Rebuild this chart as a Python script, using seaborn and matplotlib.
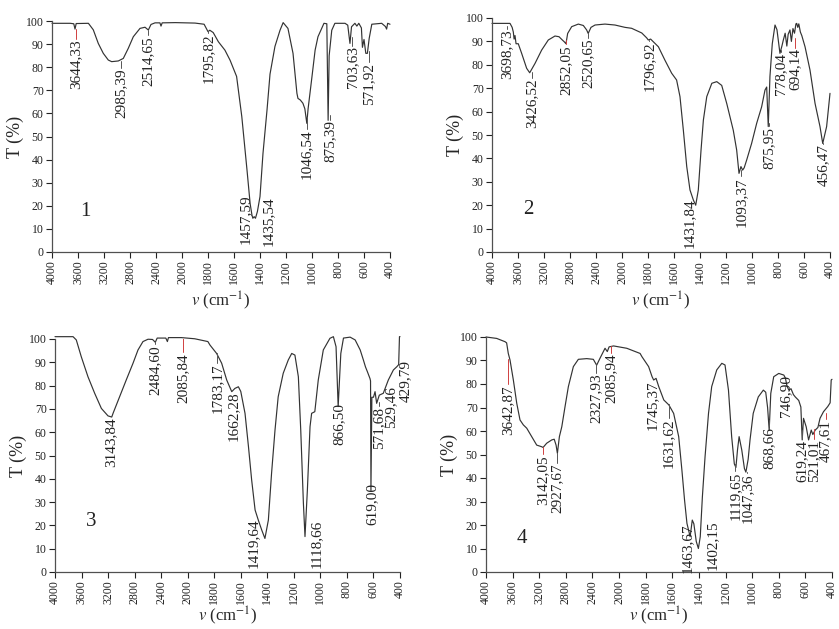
import numpy as np
import pandas as pd
import matplotlib
matplotlib.use("Agg")
import matplotlib.pyplot as plt
import seaborn as sns

# ---------------- data ----------------
wn1 = [4000, 3720, 3665, 3646, 3628, 3440, 3365, 3288, 3211, 3134,
       3082, 2980, 2903, 2826, 2749, 2646, 2569, 2518, 2477, 2415,
       2340, 2323, 2305, 2100, 1900, 1830, 1800, 1786, 1760, 1720,
       1670, 1630, 1580, 1540, 1500, 1476, 1462, 1455, 1445, 1435,
       1420, 1400, 1377, 1346, 1323, 1285, 1246, 1222, 1185, 1146,
       1116, 1108, 1090, 1070, 1055, 1040, 1030, 1000, 976, 954,
       908, 886, 876, 868, 848, 824, 746, 725, 708, 696,
       670, 655, 640, 620, 612, 600, 586, 574, 560, 540,
       464, 435, 426, 418, 400]
t1 = [99.0, 99.0, 98.8, 96.5, 98.9, 99.0, 96.2, 90.3, 86.0, 83.1,
      82.4, 82.7, 83.8, 88.2, 93.2, 96.8, 97.3, 96.1, 98.5, 99.2,
      99.2, 97.8, 99.2, 99.3, 99.1, 98.6, 95.4, 96.0, 95.0, 91.0,
      87.4, 83.0, 76.0, 58.6, 35.5, 21.0, 16.0, 14.6, 15.3, 14.6,
      17.5, 24.0, 42.7, 61.5, 77.0, 89.0, 96.0, 99.3, 96.8, 86.0,
      68.7, 66.5, 65.8, 64.4, 62.0, 55.7, 62.0, 76.0, 87.4, 93.2,
      99.0, 98.8, 57.0, 85.0, 96.0, 99.0, 99.0, 98.2, 90.3, 97.5,
      99.0, 97.8, 99.0, 97.0, 88.6, 92.0, 86.0, 86.0, 92.5, 98.6,
      99.0, 97.6, 96.5, 99.0, 98.6]

wn2 = [4000, 3723, 3690, 3672, 3660, 3646, 3630, 3596, 3544, 3467,
       3420, 3338, 3236, 3134, 3031, 2969, 2918, 2887, 2862, 2836,
       2774, 2672, 2595, 2544, 2520, 2477, 2415, 2262, 2108, 1977,
       1926, 1848, 1810, 1798, 1780, 1720, 1670, 1618, 1580, 1554,
       1528, 1502, 1477, 1451, 1433, 1413, 1392, 1374, 1348, 1309,
       1271, 1233, 1194, 1169, 1144, 1118, 1100, 1085, 1072, 1060,
       1041, 1003, 964, 926, 900, 887, 875, 862, 844, 823,
       808, 785, 770, 759, 745, 732, 722, 708, 697, 685,
       673, 662, 656, 648, 640, 628, 617, 592, 554, 515,
       477, 456, 426, 400]
t2 = [97.7, 97.7, 96.0, 94.0, 91.0, 92.5, 89.0, 89.0, 84.9, 78.5,
      76.6, 80.6, 86.3, 90.6, 92.3, 92.0, 90.6, 89.8, 89.0, 93.4,
      96.3, 97.4, 96.8, 94.9, 93.4, 96.0, 97.0, 97.4, 97.0, 96.0,
      95.6, 93.6, 91.5, 90.6, 91.0, 87.7, 82.0, 76.4, 73.5, 66.4,
      52.0, 36.5, 26.5, 22.2, 20.0, 26.5, 43.6, 56.4, 66.4, 72.1,
      72.8, 71.2, 63.4, 57.7, 52.0, 43.6, 33.6, 36.5, 35.0, 36.0,
      39.3, 46.4, 55.0, 62.0, 69.2, 70.5, 53.6, 75.0, 89.0, 97.0,
      95.0, 84.9, 88.0, 90.6, 93.5, 88.0, 93.0, 94.9, 90.0, 95.5,
      93.5, 97.5, 97.7, 96.0, 97.5, 94.0, 92.5, 87.7, 77.8, 63.5,
      53.6, 46.4, 53.6, 67.8]

wn3 = [4000, 3728, 3679, 3604, 3503, 3402, 3301, 3201, 3145, 3125,
       3025, 2925, 2824, 2749, 2674, 2598, 2530, 2488, 2460, 2330,
       2306, 2290, 2095, 1947, 1848, 1832, 1782, 1744, 1706, 1668,
       1644, 1618, 1600, 1568, 1542, 1518, 1492, 1468, 1442, 1418,
       1392, 1368, 1342, 1318, 1280, 1242, 1216, 1192, 1166, 1148,
       1128, 1116, 1098, 1078, 1066, 1042, 1016, 978, 928, 902,
       882, 866, 846, 826, 776, 738, 700, 676, 660, 646,
       626, 622, 619, 612, 600, 588, 576, 556, 526, 488,
       450, 424, 410, 404, 400]
t3 = [101.0, 101.0, 99.6, 92.4, 83.8, 76.7, 70.2, 67.0, 66.5, 68.1,
      75.3, 82.5, 89.6, 95.3, 98.9, 99.9, 99.8, 98.6, 100.4, 100.4,
      98.9, 100.6, 100.6, 100.1, 98.9, 97.4, 93.8, 89.6, 82.4, 77.4,
      78.8, 79.5, 77.5, 68.1, 53.8, 39.5, 26.6, 22.3, 18.0, 14.4,
      22.3, 42.3, 60.9, 75.2, 85.3, 91.0, 93.8, 93.1, 83.8, 60.9,
      29.5, 15.2, 35.2, 62.4, 68.1, 68.8, 82.4, 95.3, 100.3, 101.0,
      96.7, 71.0, 93.8, 100.4, 100.8, 99.6, 95.3, 91.0, 88.0, 86.0,
      83.0, 82.0, 35.0, 75.0, 75.0, 77.4, 72.4, 75.9, 76.7, 82.4,
      86.7, 88.1, 89.0, 101.0, 101.0]

wn4 = [4000, 3840, 3714, 3690, 3665, 3639, 3589, 3538, 3489, 3439,
       3388, 3313, 3238, 3163, 3142, 3088, 3012, 2975, 2947, 2927,
       2897, 2861, 2812, 2762, 2687, 2612, 2486, 2387, 2337, 2286,
       2211, 2177, 2150, 2083, 1942, 1842, 1828, 1778, 1752, 1740,
       1722, 1702, 1664, 1626, 1590, 1552, 1528, 1508, 1490, 1466,
       1450, 1438, 1420, 1404, 1390, 1374, 1354, 1328, 1304, 1266,
       1228, 1204, 1178, 1154, 1134, 1122, 1110, 1098, 1078, 1058,
       1047, 1030, 1016, 992, 954, 916, 898, 884, 872, 860,
       838, 800, 762, 750, 738, 724, 708, 690, 676, 650,
       634, 624, 614, 594, 576, 556, 544, 526, 506, 490,
       464, 432, 414, 406, 400]
t4 = [100.0, 99.4, 98.0, 97.5, 93.0, 90.2, 81.7, 71.8, 64.7, 62.6,
      61.2, 57.6, 54.0, 53.3, 53.0, 54.8, 56.2, 56.5, 54.0, 50.5,
      57.6, 61.8, 70.4, 78.9, 87.4, 90.5, 90.8, 90.5, 88.0, 91.0,
      95.2, 93.8, 95.8, 96.2, 95.2, 93.0, 91.6, 87.4, 83.1, 81.7,
      82.4, 78.9, 73.2, 71.1, 67.5, 57.6, 43.4, 30.6, 20.7, 15.0,
      22.1, 20.5, 13.0, 10.0, 15.0, 32.0, 49.0, 67.5, 78.9, 86.0,
      88.8, 88.1, 77.4, 57.6, 46.0, 44.5, 52.0, 57.6, 51.9, 44.0,
      42.5, 48.0, 56.2, 67.5, 74.5, 77.4, 76.5, 70.0, 60.4, 76.0,
      83.1, 84.5, 83.8, 82.5, 79.0, 77.4, 78.0, 75.5, 74.5, 73.0,
      70.2, 56.2, 65.4, 61.8, 56.2, 60.4, 58.5, 60.4, 61.5, 65.4,
      68.2, 70.4, 72.0, 81.7, 82.0]

labels1 = ["3644,33", "2985,39", "2514,65", "1795,82", "1457,59", "1435,54",
           "1046,54", "875,39", "703,63", "571,92"]
labels2 = ["3698,73", "3426,52", "2852,05", "2520,65", "1796,92", "1431,84",
           "1093,37", "875,95", "778,04", "694,14", "456,47"]
labels3 = ["3143,84", "2484,60", "2085,84", "1783,17", "1662,28", "1419,64",
           "1118,66", "866,50", "619,00", "571,68", "529,46", "429,79"]
labels4 = ["3642,87", "3142,05", "2927,67", "2327,93", "2085,94", "1745,37",
           "1631,62", "1463,67", "1402,15", "1119,65", "1047,36", "868,66",
           "746,90", "619,24", "521,01", "467,61"]
panel_names = ["1", "2", "3", "4"]

xtick_values = [4000, 3600, 3200, 2800, 2400, 2000, 1800, 1600, 1400,
                1200, 1000, 800, 600, 400]
ytick_values = [0, 10, 20, 30, 40, 50, 60, 70, 80, 90, 100]

# ---------------- layout (label placement) ----------------
lx1 = [3625, 2945, 2520, 1800, 1515, 1335, 1042, 860, 690, 562]
ly1 = [92, 79.5, 93.5, 94.5, 25, 24, 53, 57, 89, 82]
lx2 = [3774, 3389, 2862, 2519, 1790, 1485, 1085, 869, 780, 670, 452]
ly2 = [95, 74, 88.5, 91.3, 90, 23, 32, 53.6, 85, 87, 46]
lx3 = [3152, 2488, 2072, 1776, 1656, 1506, 1028, 858, 614, 558, 468, 362]
ly3 = [66.5, 97.4, 94, 89.6, 77.4, 23, 22.3, 72.4, 38, 71, 80, 91]
lx4 = [3664, 3148, 2928, 2345, 2125, 1752, 1626, 1488, 1300, 1126, 1038,
       870, 750, 624, 536, 448]
ly4 = [79.6, 49.8, 46.2, 84.5, 93, 81.7, 65.4, 20.7, 22.1, 42.7, 42,
       61.8, 83.8, 56.2, 56.2, 64.7]
red1 = {0}
red2 = {2, 9}
red3 = {2}
red4 = {0, 1, 4, 14, 15}
num_pos = [(3492, 17.5), (3441, 18), (3452, 21.6), (3463, 14.3)]
axes_rects = [
    [52 / 839, 1 - 252 / 629, 338 / 839, 231 / 629],
    [492 / 839, 1 - 252 / 629, 338 / 839, 234 / 629],
    [55 / 839, 1 - 572 / 629, 345 / 839, 233 / 629],
    [486 / 839, 1 - 572 / 629, 346 / 839, 235 / 629],
]
xlabel_pads = [4, 4, 0.5, 0.5]

# ---------------- style ----------------
sns.set_style("ticks")
plt.rcParams['font.family'] = ['Liberation Serif', 'DejaVu Serif']
plt.rcParams['mathtext.fontset'] = 'stix'
LINE = '#333333'
AX = '#505050'


# piecewise-linear wavenumber axis (4000-2000 step 400, 2000-400 step 200),
# written as an increasing function so the limits 4000 -> 400 run left to right
def fwd(v):
    v = np.asarray(v, dtype=float)
    return -np.where(v >= 2000, (4000 - v) / 400.0, 5 + (2000 - v) / 200.0)


def inv(q):
    p = -np.asarray(q, dtype=float)
    return np.where(p <= 5, 4000 - 400 * p, 2000 - 200 * (p - 5))


fig = plt.figure(figsize=(8.39, 6.29), dpi=100)

panels = [
    (wn1, t1, labels1, lx1, ly1, red1),
    (wn2, t2, labels2, lx2, ly2, red2),
    (wn3, t3, labels3, lx3, ly3, red3),
    (wn4, t4, labels4, lx4, ly4, red4),
]

for i, (wn, tt, labs, lx, ly, reds) in enumerate(panels):
    assert len(wn) == len(tt)
    ax = fig.add_axes(axes_rects[i])
    ax.set_xscale('function', functions=(fwd, inv))
    df = pd.DataFrame({'wn': wn, 'T': tt})
    sns.lineplot(data=df, x='wn', y='T', ax=ax, sort=False, estimator=None,
                 color=LINE, lw=0.85)
    for ln in ax.get_lines():
        ln.set_clip_on(False)
    ax.set_xticks(xtick_values)
    ax.set_xticklabels([str(v) for v in xtick_values], rotation=90)
    ax.set_yticks(ytick_values)
    ax.set_ylim(0, 100)
    ax.set_xlim(4000, 400)
    ax.tick_params(direction='out', length=4, width=0.8, labelsize=8.5,
                   colors='#222222', pad=2)
    for s in ['left', 'bottom']:
        ax.spines[s].set_color(AX)
        ax.spines[s].set_linewidth(0.9)
    sns.despine(ax=ax)
    ax.set_xlabel(r'$v$ (cm$^{-1}$)', fontsize=12, labelpad=xlabel_pads[i])
    ax.set_ylabel('T (%)', fontsize=13, labelpad=1)

    wr = np.array(wn[::-1], dtype=float)
    tr = np.array(tt[::-1], dtype=float)
    for k, lab in enumerate(labs):
        peak = float(lab.replace(',', '.'))
        ax.text(lx[k], ly[k], lab, rotation=90, ha='center', va='top',
                fontsize=11, color='#222222')
        if abs(float(fwd(peak)) - float(fwd(lx[k]))) < 0.2:
            tc = float(np.interp(peak, wr, tr))
            if 0.5 < tc - ly[k] < 14:
                ax.plot([lx[k], lx[k]], [ly[k] + 0.3, tc],
                        color=('#d04040' if k in reds else '#555555'),
                        lw=0.7)
    ax.text(num_pos[i][0], num_pos[i][1], panel_names[i], fontsize=15,
            ha='center', va='center', color='#222222')

fig.savefig('out.png', dpi=100)
